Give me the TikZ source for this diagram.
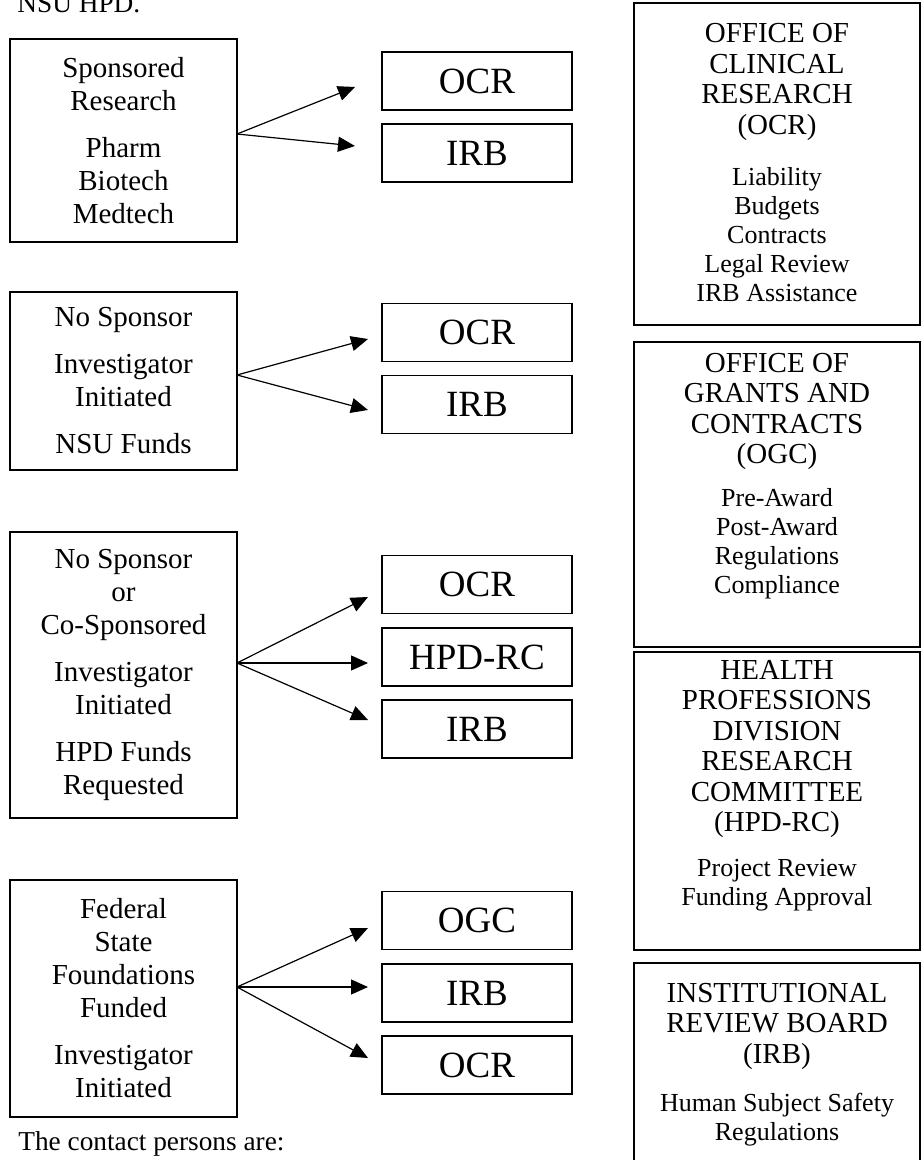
\documentclass[tikz,border=0pt]{standalone}
\usepackage{fontspec}
\setmainfont{Liberation Serif}
\usetikzlibrary{arrows.meta}
\tikzset{
 srcbox/.style={draw, line width=0.75pt, minimum width=113.5pt, inner sep=0pt, align=center, font=\fontsize{14.5}{16.5}\selectfont},
 dstbox/.style={draw, line width=0.75pt, minimum width=95pt, minimum height=29pt, inner sep=0pt, font=\fontsize{18.5}{22}\selectfont},
 infobox/.style={draw, line width=0.75pt, minimum width=143pt, inner sep=0pt},
 infotitle/.style={align=center, inner sep=0pt, font=\fontsize{14.5}{15.25}\selectfont},
 infoitems/.style={align=center, inner sep=0pt, font=\fontsize{13}{14.5}\selectfont},
 flow/.style={line width=0.6pt, -{Triangle[length=8.5pt,width=7.5pt]}},
 plaintext/.style={inner sep=0pt, anchor=base west, font=\fontsize{13.65}{16}\selectfont}
}
\begin{document}
\begin{tikzpicture}[x=0.5pt,y=-0.5pt]
\useasboundingbox (0,0) rectangle (924,1160);
\fill[white] (0,0) rectangle (924,1160);

% header / footer text
\node[plaintext] (hdr) at (17,13) {NSU HPD.};
\node[plaintext] (ftr) at (18,1150) {The contact persons are:};

% source boxes
\node[srcbox, minimum height=101.5pt] (b1) at (123.5,140.5) {Sponsored\\Research\\[7pt]Pharm\\Biotech\\Medtech};
\node[srcbox, minimum height=89pt] (b2) at (123.5,381) {No Sponsor\\[7pt]Investigator\\Initiated\\[7pt]NSU Funds};
\node[srcbox, minimum height=143pt] (b3) at (123.5,675) {No Sponsor\\or\\Co-Sponsored\\[7pt]Investigator\\Initiated\\[7pt]HPD Funds\\Requested};
\node[srcbox, minimum height=118.5pt] (b4) at (123.5,998.5) {Federal\\State\\Foundations\\Funded\\[7pt]Investigator\\Initiated};

% destination boxes
\node[dstbox] (d1a) at (477,81) {OCR};
\node[dstbox] (d1b) at (477,153) {IRB};
\node[dstbox] (d2a) at (477,332.5) {OCR};
\node[dstbox] (d2b) at (477,404.5) {IRB};
\node[dstbox] (d3a) at (477,584.5) {OCR};
\node[dstbox] (d3b) at (477,657) {HPD-RC};
\node[dstbox] (d3c) at (477,729) {IRB};
\node[dstbox] (d4a) at (477,920.5) {OGC};
\node[dstbox] (d4b) at (477,993) {IRB};
\node[dstbox] (d4c) at (477,1065) {OCR};

% arrow coordinates
\coordinate (s1) at (237,134);
\coordinate (s2) at (237,375);
\coordinate (s3) at (237,663);
\coordinate (s4) at (237,987);
\coordinate (t1a) at (355,87);
\coordinate (t1b) at (355,146);
\coordinate (t2a) at (368,339);
\coordinate (t2b) at (368,410);
\coordinate (t3a) at (368,597);
\coordinate (t3b) at (368,663);
\coordinate (t3c) at (368,720);
\coordinate (t4a) at (368,928);
\coordinate (t4b) at (368,987);
\coordinate (t4c) at (368,1058);

\draw[flow] (s1) -- (t1a);
\draw[flow] (s1) -- (t1b);
\draw[flow] (s2) -- (t2a);
\draw[flow] (s2) -- (t2b);
\draw[flow] (s3) -- (t3a);
\draw[flow] (s3) -- (t3b);
\draw[flow] (s3) -- (t3c);
\draw[flow] (s4) -- (t4a);
\draw[flow] (s4) -- (t4b);
\draw[flow] (s4) -- (t4c);

% right information boxes
\node[infobox, minimum height=161pt] (r1) at (777,164) {};
\node[infotitle] (r1t) at (777,82) {OFFICE OF\\CLINICAL\\RESEARCH\\(OCR)};
\node[infoitems] (r1i) at (777,234.5) {Liability\\Budgets\\Contracts\\Legal Review\\IRB Assistance};

\node[infobox, minimum height=152.5pt] (r2) at (777,494.5) {};
\node[infotitle] (r2t) at (777,411.5) {OFFICE OF\\GRANTS AND\\CONTRACTS\\(OGC)};
\node[infoitems] (r2i) at (777,544) {Pre-Award\\Post-Award\\Regulations\\Compliance};

\node[infobox, minimum height=149pt] (r3) at (777,801) {};
\node[infotitle] (r3t) at (777,749) {HEALTH\\PROFESSIONS\\DIVISION\\RESEARCH\\COMMITTEE\\(HPD-RC)};
\node[infoitems] (r3i) at (777,885) {Project Review\\Funding Approval};

\node[infobox, minimum height=106pt] (r4) at (777,1069) {};
\node[infotitle] (r4t) at (777,1026) {INSTITUTIONAL\\REVIEW BOARD\\(IRB)};
\node[infoitems] (r4i) at (777,1119.5) {Human Subject Safety\\Regulations};
\end{tikzpicture}
\end{document}
